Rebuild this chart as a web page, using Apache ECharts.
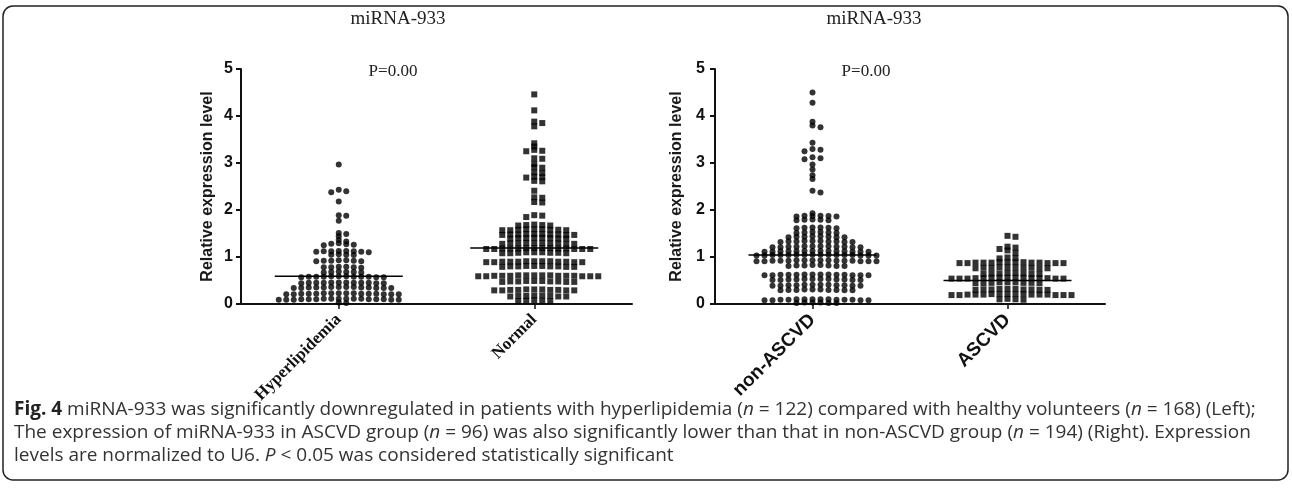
<!DOCTYPE html>
<html><head><meta charset="utf-8">
<script src="https://cdn.jsdelivr.net/npm/echarts@6/dist/echarts.min.js"></script>
<style>html,body{margin:0;padding:0;background:#fff}#c{width:1292px;height:498px}</style>
</head><body><div id="c"></div>
<script>
// ---------- data ----------
const leftCategories = ['Hyperlipidemia', 'Normal'];
const rightCategories = ['non-ASCVD', 'ASCVD'];
const chartTitle = 'miRNA-933';
const pLabel = 'P=0.00';
const yAxisName = 'Relative expression level';
const yMin = 0, yMax = 5, yStep = 1;

const hyperlipidemia = [
  2.97, 2.43, 2.40, 2.38, 2.18, 1.88, 1.89, 1.77, 1.51, 1.49, 1.44, 1.36, 1.33,
  1.28, 1.27, 1.29, 1.26, 1.25,
  1.13, 1.12, 1.11, 1.12, 1.13, 1.10, 1.12, 1.11,
  1.05, 1.04, 1.06, 1.05,
  0.93, 0.92, 0.91, 0.92, 0.93, 0.92, 0.91,
  0.78, 0.79, 0.77, 0.78, 0.78, 0.79,
  0.68, 0.67, 0.68, 0.69, 0.68, 0.67,
  0.59, 0.58, 0.57, 0.58, 0.59, 0.58, 0.57, 0.58, 0.59, 0.58, 0.57, 0.58,
  0.46, 0.45, 0.44, 0.45, 0.46, 0.45, 0.44, 0.45, 0.46, 0.45, 0.44, 0.45,
  0.35, 0.34, 0.36, 0.35, 0.34, 0.36, 0.35, 0.34, 0.36, 0.35, 0.34, 0.36, 0.35, 0.34,
  0.22, 0.21, 0.23, 0.22, 0.21, 0.23, 0.22, 0.21, 0.23, 0.22, 0.21, 0.23, 0.22, 0.21, 0.23, 0.22,
  0.10, 0.11, 0.09, 0.10, 0.11, 0.09, 0.10, 0.11, 0.09, 0.10, 0.11, 0.09, 0.10, 0.11, 0.09, 0.10, 0.11,
  0.03, 0.02
];
const normal = [
  4.46, 4.12, 3.88, 3.85, 3.78, 3.42, 3.35, 3.28, 3.26, 3.25, 3.10, 3.09, 2.98, 2.91, 2.90,
  2.80, 2.79, 2.71, 2.70, 2.69, 2.62, 2.61, 2.41, 2.27, 2.26, 2.17, 2.16, 1.89, 1.88, 1.85,
  1.68, 1.67, 1.69, 1.68, 1.67,
  1.58, 1.57, 1.59, 1.58, 1.57, 1.59, 1.58, 1.57, 1.59,
  1.48, 1.47, 1.49, 1.48, 1.47, 1.49, 1.48, 1.47, 1.49, 1.48,
  1.40, 1.39, 1.41, 1.40, 1.39, 1.41, 1.40, 1.39,
  1.29, 1.28, 1.30, 1.29, 1.28, 1.30, 1.29, 1.28, 1.30, 1.29,
  1.18, 1.17, 1.19, 1.18, 1.17, 1.19, 1.18, 1.17, 1.19, 1.18, 1.17, 1.19, 1.18, 1.17,
  1.09, 1.08, 1.10, 1.09, 1.08, 1.10, 1.09, 1.08, 1.10,
  0.90, 0.89, 0.91, 0.90, 0.89, 0.91, 0.90, 0.89, 0.91, 0.90, 0.89, 0.91, 0.90,
  0.80, 0.79, 0.81, 0.80, 0.79, 0.81, 0.80, 0.79, 0.81, 0.80,
  0.60, 0.59, 0.61, 0.60, 0.59, 0.61, 0.60, 0.59, 0.61, 0.60, 0.59, 0.61, 0.60, 0.59, 0.61, 0.60,
  0.48, 0.47, 0.49, 0.48, 0.47, 0.49, 0.48, 0.47, 0.49, 0.48,
  0.30, 0.29, 0.31, 0.30, 0.29, 0.31, 0.30, 0.29, 0.31, 0.30, 0.29,
  0.17, 0.16, 0.18, 0.17, 0.16, 0.18, 0.17, 0.16,
  0.07, 0.06, 0.08, 0.07, 0.06
];
const nonAscvd = [
  4.50, 4.28, 3.88, 3.80, 3.76, 3.43, 3.30, 3.28, 3.25, 3.12, 3.10, 3.08, 2.97, 2.86, 2.74, 2.66, 2.41, 2.37,
  1.93,
  1.87, 1.86, 1.88, 1.87, 1.86, 1.88,
  1.79, 1.78, 1.80, 1.79, 1.78,
  1.62, 1.61, 1.63, 1.62, 1.61, 1.63,
  1.52, 1.51, 1.53, 1.52, 1.51, 1.53,
  1.43, 1.42, 1.44, 1.43, 1.42, 1.44, 1.43, 1.42,
  1.33, 1.32, 1.34, 1.33, 1.32, 1.34, 1.33, 1.32, 1.34, 1.33,
  1.22, 1.21, 1.23, 1.22, 1.21, 1.23, 1.22, 1.21, 1.23, 1.22, 1.21, 1.23,
  1.12, 1.11, 1.13, 1.12, 1.11, 1.13, 1.12, 1.11, 1.13, 1.12, 1.11, 1.13, 1.12, 1.11,
  1.04, 1.03, 1.05, 1.04, 1.03, 1.05, 1.04, 1.03, 1.05, 1.04, 1.03, 1.05, 1.04, 1.03, 1.05, 1.04,
  0.92, 0.91, 0.93, 0.92, 0.91, 0.93, 0.92, 0.91, 0.93, 0.92, 0.91, 0.93, 0.92, 0.91, 0.93, 0.92,
  0.82, 0.81, 0.83, 0.82, 0.81, 0.83, 0.82, 0.81,
  0.62, 0.61, 0.63, 0.62, 0.61, 0.63, 0.62, 0.61, 0.63, 0.62, 0.61, 0.63, 0.62, 0.61,
  0.52, 0.51, 0.53, 0.52, 0.51, 0.53, 0.52, 0.51, 0.53, 0.52, 0.51, 0.53,
  0.40, 0.39, 0.41, 0.40, 0.39, 0.41, 0.40, 0.39, 0.41, 0.40, 0.39, 0.41,
  0.30, 0.29, 0.31, 0.30, 0.29, 0.31, 0.30, 0.29, 0.31, 0.30,
  0.09, 0.10, 0.08, 0.09, 0.10, 0.08, 0.09, 0.10, 0.08, 0.09, 0.10, 0.08, 0.09, 0.10,
  0.03, 0.02, 0.03, 0.02, 0.03, 0.02
];
const ascvd = [
  1.45, 1.43, 1.22, 1.20, 1.17, 1.14, 1.09,
  0.98, 0.97, 0.99,
  0.88, 0.87, 0.89, 0.88, 0.87, 0.89, 0.88, 0.87, 0.89, 0.88, 0.87, 0.89, 0.88, 0.87,
  0.77, 0.76, 0.78, 0.77, 0.76, 0.78, 0.77, 0.76, 0.78, 0.77,
  0.65, 0.64, 0.66, 0.65, 0.64, 0.66, 0.65, 0.64,
  0.55, 0.54, 0.56, 0.55, 0.54, 0.56, 0.55, 0.54, 0.56, 0.55, 0.54, 0.56, 0.55, 0.54, 0.56,
  0.45, 0.44, 0.46, 0.45, 0.44, 0.46, 0.45, 0.44, 0.46,
  0.31, 0.30, 0.32, 0.31, 0.30, 0.32, 0.31, 0.30, 0.32, 0.31,
  0.20, 0.19, 0.21, 0.20, 0.19, 0.21, 0.20, 0.19, 0.21, 0.20, 0.19, 0.21, 0.20, 0.19, 0.21, 0.20,
  0.10, 0.09, 0.11, 0.10
];
const leftMeans = [0.59, 1.19];
const rightMeans = [1.04, 0.50];

const captionLines = [
  '{b|Fig. 4} miRNA-933 was significantly downregulated in patients with hyperlipidemia ({i|n} = 122) compared with healthy volunteers ({i|n} = 168) (Left);',
  'The expression of miRNA-933 in ASCVD group ({i|n} = 96) was also significantly lower than that in non-ASCVD group ({i|n} = 194) (Right). Expression',
  'levels are normalized to U6. {i|P} < 0.05 was considered statistically significant'
];

// ---------- layout ----------
const G = [
  {left: 241, top: 69, width: 391, height: 235},
  {left: 715, top: 69, width: 390, height: 235}
];
const pxPerY = G[0].height / (yMax - yMin);

function swarm(values, center, dPx, cyPx, unitPerPx) {
  const placed = [];
  const sorted = values.slice().sort((a, b) => b - a);
  const out = [];
  sorted.forEach(v => {
    const y = v * pxPerY;
    const near = placed.filter(p => Math.abs(p.y - y) < cyPx);
    const cands = [0];
    near.forEach(p => { cands.push(p.x + dPx, p.x - dPx); });
    cands.sort((a, b) => (Math.abs(a) - Math.abs(b)) || (b - a));
    const x = cands.find(c => near.every(p => Math.abs(p.x - c) >= dPx - 1e-6));
    placed.push({y, x});
    out.push([center + x * unitPerPx, v]);
  });
  return out;
}

const chart = echarts.init(document.getElementById('c'), null, {renderer: 'canvas'});
const serif = '"Liberation Serif", "Times New Roman", serif';
const sans = '"Liberation Sans", Arial, sans-serif';
const capFont = '"Open Sans", sans-serif';
const capSize = 19;

function yAxisFor(gi, gap, lblMargin) {
  return {
    type: 'value', gridIndex: gi, min: yMin, max: yMax, interval: yStep,
    name: yAxisName, nameLocation: 'middle', nameGap: gap,
    nameTextStyle: {fontFamily: sans, fontWeight: 'bold', fontSize: 16, color: '#1a1a1a'},
    axisLine: {show: true, lineStyle: {color: '#111', width: 2}},
    axisTick: {show: true, length: 5, lineStyle: {color: '#111', width: 2}},
    axisLabel: {fontFamily: sans, fontWeight: 'bold', fontSize: 16, color: '#111', margin: lblMargin},
    splitLine: {show: false}
  };
}
function catAxis(gi, cats, font, size, margin) {
  return {
    type: 'category', gridIndex: gi, data: cats, boundaryGap: true,
    axisLine: {show: true, onZero: false, lineStyle: {color: '#111', width: 2}},
    axisTick: {show: true, alignWithLabel: true, length: 5, lineStyle: {color: '#111', width: 1.5}},
    axisLabel: {rotate: 45, fontFamily: font, fontWeight: 'bold', fontSize: size, color: '#111', margin: margin, interval: 0},
    splitLine: {show: false}
  };
}
function valX(gi) {
  return {type: 'value', gridIndex: gi, min: 0, max: 4, show: false,
          axisLine: {show: false}, splitLine: {show: false}, axisTick: {show: false}, axisLabel: {show: false}};
}
function dots(xi, yi, values, center, sym, size, d, gi) {
  return {
    type: 'scatter', xAxisIndex: xi, yAxisIndex: yi, symbol: sym, symbolSize: size,
    itemStyle: {color: '#000'}, silent: true, z: 2,
    data: swarm(values, center, d, 2.5, 4 / G[gi].width)
  };
}
function meanLine(xi, yi, center, m, gi) {
  const h = 64 * 4 / G[gi].width;
  return {
    type: 'line', xAxisIndex: xi, yAxisIndex: yi, symbol: 'none', silent: true, z: 3,
    lineStyle: {color: '#000', width: 1.5},
    data: [[center - h, m], [center + h, m]]
  };
}

const option = {
  animation: false,
  backgroundColor: '#fff',
  grid: G.map(g => Object.assign({containLabel: false}, g)),
  title: [
    {text: chartTitle, left: 393, top: 5, textAlign: 'center',
     textStyle: {fontFamily: serif, fontWeight: 'normal', fontSize: 19, color: '#222'}},
    {text: chartTitle, left: 869, top: 5, textAlign: 'center',
     textStyle: {fontFamily: serif, fontWeight: 'normal', fontSize: 19, color: '#222'}},
    {text: pLabel, left: 388, top: 58, textAlign: 'center',
     textStyle: {fontFamily: serif, fontWeight: 'normal', fontSize: 17, color: '#222'}},
    {text: pLabel, left: 861, top: 58, textAlign: 'center',
     textStyle: {fontFamily: serif, fontWeight: 'normal', fontSize: 17, color: '#222'}}
  ],
  xAxis: [
    catAxis(0, leftCategories, serif, 17, 13),
    catAxis(1, rightCategories, sans, 19, 13),
    valX(0), valX(1)
  ],
  yAxis: [yAxisFor(0, 25, 8), yAxisFor(1, 30, 10)],
  series: [
    dots(2, 0, hyperlipidemia, 1, 'circle', 6, 7.5, 0),
    dots(2, 0, normal, 3, 'rect', 6, 8, 0),
    dots(3, 1, nonAscvd, 1, 'circle', 6, 8, 1),
    dots(3, 1, ascvd, 3, 'rect', 6, 8, 1),
    meanLine(2, 0, 1, leftMeans[0], 0),
    meanLine(2, 0, 3, leftMeans[1], 0),
    meanLine(3, 1, 1, rightMeans[0], 1),
    meanLine(3, 1, 3, rightMeans[1], 1)
  ],
  graphic: [
    {type: 'rect', shape: {x: 3, y: 6, width: 1285, height: 474, r: 10}, silent: true,
     style: {fill: 'none', stroke: '#222', lineWidth: 1.5}},
  ].concat(captionLines.map((t, i) => ({
    type: 'text', x: 14, y: 400 + i * 23, silent: true,
    style: {
      text: t, fontFamily: capFont, fontSize: capSize, fill: '#333',
      rich: {
        b: {fontFamily: capFont, fontSize: capSize, fontWeight: 'bold', fill: '#222'},
        i: {fontFamily: capFont, fontSize: capSize, fontStyle: 'italic', fill: '#333'}
      }
    }
  })))
};
chart.setOption(option);
</script>
</body></html>
